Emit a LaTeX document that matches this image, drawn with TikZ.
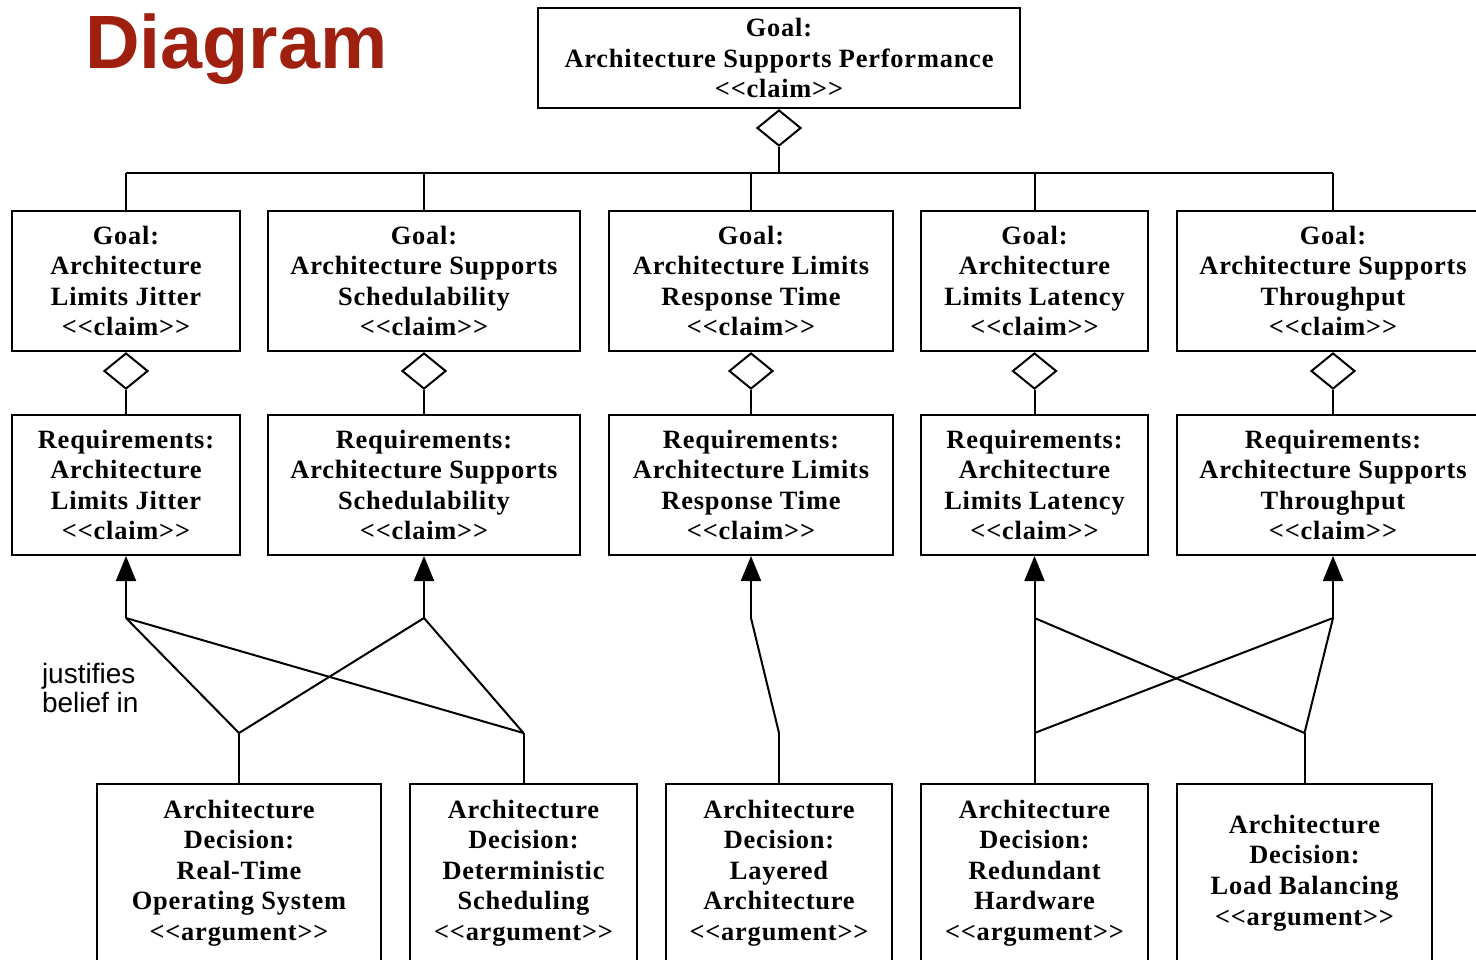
\documentclass[tikz,border=0pt]{standalone}
\usepackage{fontspec}
\usepackage{xcolor}
\usepackage{tikz}
\usetikzlibrary{positioning,shapes.geometric,arrows.meta}

\newfontfamily\boxfont{Liberation Serif}[LetterSpace=3]
\newfontfamily\labelfont{Liberation Sans}
\definecolor{titlered}{RGB}{160,32,16}

\tikzset{
  claim/.style={draw, line width=1pt, inner sep=0pt, align=center, minimum height=70pt,
    font=\boxfont\bfseries\fontsize{13.2}{15.3}\selectfont},
  argument/.style={claim, minimum height=89pt},
  agg/.style={draw, diamond, line width=1pt, inner sep=0pt, minimum width=22pt, minimum height=18pt, anchor=north},
  justify/.style={-{Triangle[width=10pt,length=12.5pt]}}
}

\begin{document}
\begin{tikzpicture}[x=0.5pt, y=-0.5pt, line width=1pt]
\useasboundingbox (0,0) rectangle (1476,959);
\clip (0,0) rectangle (1476,959);

\node[anchor=base west, inner sep=0pt, text=titlered, font=\labelfont\bfseries\fontsize{37.8}{40}\selectfont] (title) at (84,68) {Diagram};

% top goal
\node[claim, minimum width=241pt, minimum height=50pt] (goal) at (779,58) {Goal:\\Architecture Supports Performance\\<{}<claim>{}>};

% goals
\node[claim, minimum width=114pt] (g1) at (126,281) {Goal:\\Architecture\\Limits Jitter\\<{}<claim>{}>};
\node[claim, minimum width=156pt] (g2) at (424,281) {Goal:\\Architecture Supports\\Schedulability\\<{}<claim>{}>};
\node[claim, minimum width=142pt] (g3) at (751,281) {Goal:\\Architecture Limits\\Response Time\\<{}<claim>{}>};
\node[claim, minimum width=113.5pt] (g4) at (1034.5,281) {Goal:\\Architecture\\Limits Latency\\<{}<claim>{}>};
\node[claim, minimum width=156pt] (g5) at (1333,281) {Goal:\\Architecture Supports\\Throughput\\<{}<claim>{}>};

% requirements
\node[claim, minimum width=114pt] (r1) at (126,485) {Requirements:\\Architecture\\Limits Jitter\\<{}<claim>{}>};
\node[claim, minimum width=156pt] (r2) at (424,485) {Requirements:\\Architecture Supports\\Schedulability\\<{}<claim>{}>};
\node[claim, minimum width=142pt] (r3) at (751,485) {Requirements:\\Architecture Limits\\Response Time\\<{}<claim>{}>};
\node[claim, minimum width=113.5pt] (r4) at (1034.5,485) {Requirements:\\Architecture\\Limits Latency\\<{}<claim>{}>};
\node[claim, minimum width=156pt] (r5) at (1333,485) {Requirements:\\Architecture Supports\\Throughput\\<{}<claim>{}>};

% decisions
\node[argument, minimum width=142pt] (ad1) at (239,873) {Architecture\\Decision:\\Real-Time\\Operating System\\<{}<argument>{}>};
\node[argument, minimum width=113.5pt] (ad2) at (523.5,873) {Architecture\\Decision:\\Deterministic\\Scheduling\\<{}<argument>{}>};
\node[argument, minimum width=113pt] (ad3) at (779,873) {Architecture\\Decision:\\Layered\\Architecture\\<{}<argument>{}>};
\node[argument, minimum width=113.5pt] (ad4) at (1034.5,873) {Architecture\\Decision:\\Redundant\\Hardware\\<{}<argument>{}>};
\node[argument, minimum width=127.5pt] (ad5) at (1304.5,873) {Architecture\\Decision:\\Load Balancing\\<{}<argument>{}>};

\node[anchor=north west, align=left, inner sep=0pt, font=\labelfont\fontsize{14}{14.5}\selectfont] (lbl) at (41,662) {justifies\\belief in};

% aggregation
\node[agg] (a0) at (goal.south) {};
\coordinate (busL) at (126,173);
\coordinate (busR) at (1333,173);
\draw (busL) -- (busR);
\draw (a0.south) -- (a0.south |- busL);
\foreach \i in {1,...,5} {
  \node[agg] (a\i) at (g\i.south) {};
  \draw (g\i.north) -- (g\i.north |- busL);
  \draw (a\i.south) -- (r\i.north);
}

% justification
\coordinate (j1) at (126,618);
\coordinate (j2) at (424,618);
\coordinate (j3) at (751,618);
\coordinate (j4) at (1034.5,618);
\coordinate (j5) at (1333,618);
\coordinate (k1) at (239,733);
\coordinate (k2) at (523.5,733);
\coordinate (k3) at (779,733);
\coordinate (k4) at (1034.5,733);
\coordinate (k5) at (1304.5,733);

\foreach \i in {1,...,5} {
  \draw[justify] (j\i) -- (r\i.south);
  \draw (k\i) -- (ad\i.north);
}
\draw (j1) -- (k1);
\draw (j1) -- (k2);
\draw (j2) -- (k1);
\draw (j2) -- (k2);
\draw (j3) -- (k3);
\draw (j4) -- (k4);
\draw (j4) -- (k5);
\draw (j5) -- (k4);
\draw (j5) -- (k5);

\end{tikzpicture}
\end{document}
